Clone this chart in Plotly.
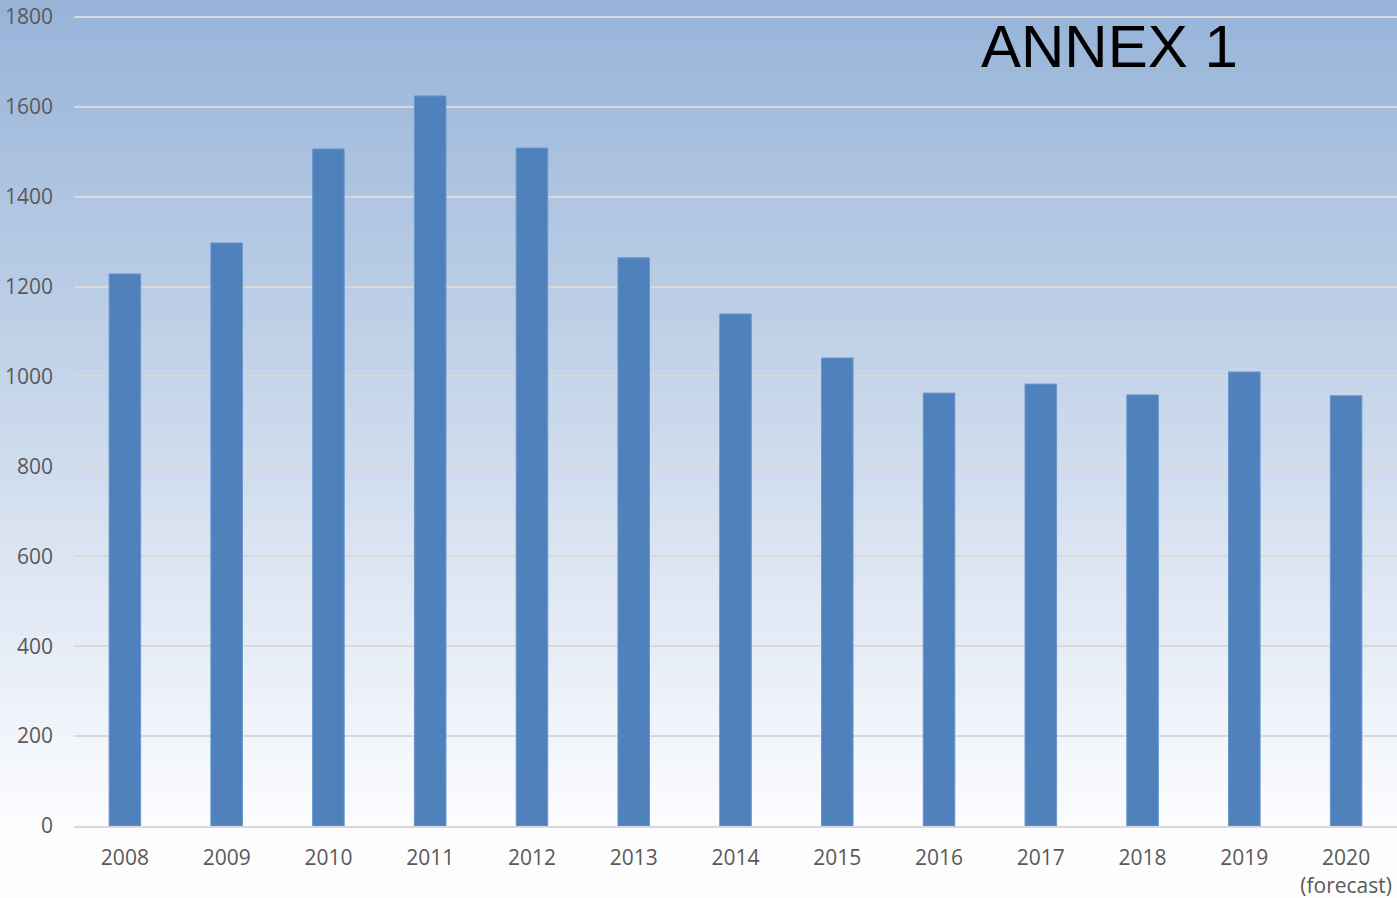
import plotly.graph_objects as go

years = ["2008", "2009", "2010", "2011", "2012", "2013", "2014",
         "2015", "2016", "2017", "2018", "2019", "2020"]
tick_text = ["2008", "2009", "2010", "2011", "2012", "2013", "2014",
             "2015", "2016", "2017", "2018", "2019", "2020<br>(forecast)"]
values = [1228, 1297, 1506, 1624, 1508, 1264, 1139, 1041, 963, 983, 959, 1010, 957]
y_ticks = [0, 200, 400, 600, 800, 1000, 1200, 1400, 1600, 1800]

W, H = 1397, 898
ML, MR, MT, MB = 74, 0, 15, 72
plot_h = H - MT - MB

fig = go.Figure()
fig.add_trace(go.Bar(
    x=years, y=values, width=0.31,
    marker=dict(color="#4f81bd", line=dict(color="#6b95c9", width=1)),
    hoverinfo="x+y",
))

# background gradient (figure-wide strips in paper coords)
top_c = (150, 179, 216)
bot_c = (253, 253, 255)
n = 90
grad_top_px = 0
grad_bot_px = 830
shapes = []
for i in range(n):
    p0 = grad_top_px + (grad_bot_px - grad_top_px) * i / n
    p1 = grad_top_px + (grad_bot_px - grad_top_px) * (i + 1) / n + 0.8
    t = (i + 0.5) / n
    c = tuple(round(top_c[k] + (bot_c[k] - top_c[k]) * t) for k in range(3))
    y0 = (H - MB - p1) / plot_h
    y1 = (H - MB - p0) / plot_h
    shapes.append(dict(type="rect", xref="paper", yref="paper",
                       x0=-ML / (W - ML - MR), x1=1.0,
                       y0=y0, y1=y1, line=dict(width=0),
                       fillcolor="rgb(%d,%d,%d)" % c, layer="below"))

fig.update_layout(
    width=W, height=H,
    margin=dict(l=ML, r=MR, t=MT, b=MB),
    paper_bgcolor="#fdfdfe",
    plot_bgcolor="rgba(0,0,0,0)",
    shapes=shapes,
    showlegend=False,
    bargap=0.69,
    font=dict(family="Open Sans, sans-serif", size=21, color="#595959"),
    xaxis=dict(
        type="category", tickmode="array", tickvals=years, ticktext=tick_text,
        showgrid=False, showline=True, linecolor="#d9d9d9", linewidth=2,
        ticks="", ticklabelstandoff=12,
        tickfont=dict(family="Open Sans, sans-serif", size=21, color="#595959"),
    ),
    yaxis=dict(
        range=[0, 1804], tickmode="array", tickvals=y_ticks,
        showgrid=True, gridcolor="#d9d9d9", gridwidth=1.5,
        zeroline=False, showline=False, ticks="", ticklabelstandoff=20,
        tickfont=dict(family="Open Sans, sans-serif", size=21, color="#595959"),
    ),
    annotations=[dict(
        text="ANNEX 1", xref="paper", yref="paper",
        x=(1109 - ML) / (W - ML - MR), y=(H - MB - 46) / plot_h,
        xanchor="center", yanchor="middle", showarrow=False,
        font=dict(family="Liberation Sans, Arial, sans-serif", size=60, color="#000000"),
    )],
)

fig.write_html("out.html", config={"displayModeBar": False},
               post_script="document.body.style.margin='0px';document.body.style.overflow='hidden';")
